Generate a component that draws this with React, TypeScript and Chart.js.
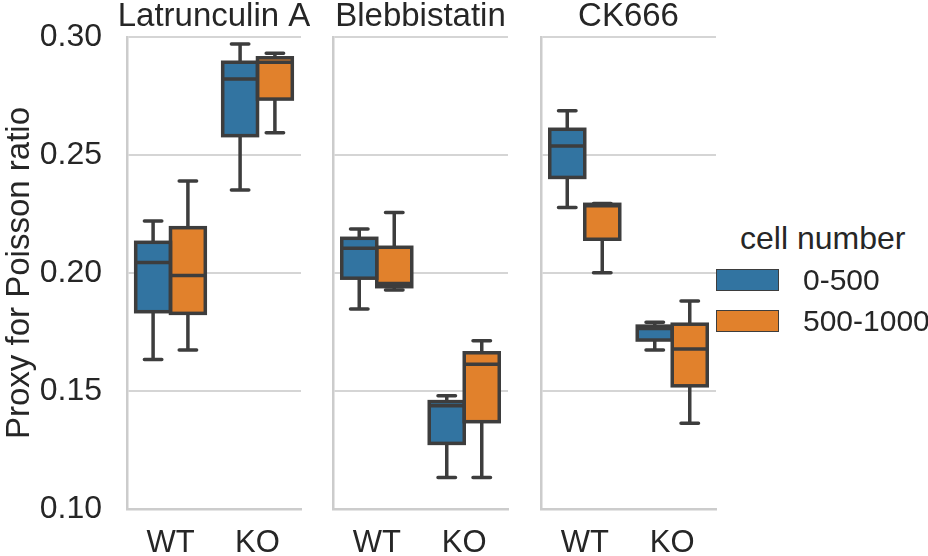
import React, { useEffect, useRef } from 'react';
import { Chart, registerables } from 'chart.js';

Chart.register(...registerables);

// ---------- data ----------
const panelTitles = ['Latrunculin A', 'Blebbistatin', 'CK666'];
const genotypes = ['WT', 'KO'];
const cellNumberGroups = ['0-500', '500-1000'];
const yTickValues = [0.1, 0.15, 0.2, 0.25, 0.3];

// each entry: [min, q1, median, q3, max] for WT, KO
const latrunculin_0_500 = [
  [0.1634, 0.1836, 0.2045, 0.213, 0.222],
  [0.2352, 0.2582, 0.2822, 0.2893, 0.297],
];
const latrunculin_500_1000 = [
  [0.1674, 0.1829, 0.1989, 0.2192, 0.239],
  [0.2594, 0.2737, 0.2893, 0.2912, 0.2931],
];
const blebbistatin_0_500 = [
  [0.1847, 0.1978, 0.2105, 0.2147, 0.2186],
  [0.1133, 0.1278, 0.1438, 0.1455, 0.148],
];
const blebbistatin_500_1000 = [
  [0.1928, 0.1942, 0.1956, 0.2109, 0.2256],
  [0.1133, 0.137, 0.1613, 0.1662, 0.1713],
];
const ck666_0_500 = [
  [0.2278, 0.2405, 0.2538, 0.2609, 0.2688],
  [0.1674, 0.1716, 0.1765, 0.1775, 0.1791],
];
const ck666_500_1000 = [
  [0.2001, 0.2143, 0.2285, 0.2291, 0.2295],
  [0.1363, 0.1522, 0.1678, 0.1783, 0.1881],
];

// ---------- style ----------
const BLUE = '#3274a1';
const ORANGE = '#e1812c';
const LINE = '#3d3d3d';
const GRID = '#d5d5d5';
const SPINE = '#cccccc';
const TEXT = '#262626';
const FONT = "'Liberation Sans', Arial, sans-serif";
const LW = 3.5;

const boxPlugin = {
  id: 'boxWhiskers',
  afterDatasetsDraw(chart: any) {
    const ctx = chart.ctx;
    const y = chart.scales.y;
    chart.data.datasets.forEach((ds: any, di: number) => {
      const meta = chart.getDatasetMeta(di);
      meta.data.forEach((el: any, i: number) => {
        const s = ds.stats[i];
        const x = el.x;
        const w = el.width;
        const yMin = y.getPixelForValue(s[0]);
        const yQ1 = y.getPixelForValue(s[1]);
        const yMed = y.getPixelForValue(s[2]);
        const yQ3 = y.getPixelForValue(s[3]);
        const yMax = y.getPixelForValue(s[4]);
        ctx.save();
        ctx.strokeStyle = LINE;
        ctx.lineWidth = LW;
        // whiskers
        ctx.lineCap = 'butt';
        ctx.beginPath();
        ctx.moveTo(x, yQ3);
        ctx.lineTo(x, yMax);
        ctx.moveTo(x, yQ1);
        ctx.lineTo(x, yMin);
        ctx.stroke();
        // caps
        ctx.lineCap = 'round';
        const cw = w * 0.25;
        ctx.beginPath();
        ctx.moveTo(x - cw, yMax);
        ctx.lineTo(x + cw, yMax);
        ctx.moveTo(x - cw, yMin);
        ctx.lineTo(x + cw, yMin);
        ctx.stroke();
        // box outline
        ctx.lineCap = 'butt';
        ctx.lineJoin = 'miter';
        ctx.strokeRect(x - w / 2, yQ3, w, yQ1 - yQ3);
        // median
        ctx.beginPath();
        ctx.moveTo(x - w / 2, yMed);
        ctx.lineTo(x + w / 2, yMed);
        ctx.stroke();
        ctx.restore();
      });
    });
  },
};

const panelTitlePlugin = {
  id: 'panelTitle',
  afterDraw(chart: any) {
    const t = chart.options.plugins.panelTitle;
    if (!t) return;
    const ctx = chart.ctx;
    const a = chart.chartArea;
    ctx.save();
    ctx.fillStyle = TEXT;
    ctx.font = `33px ${FONT}`;
    ctx.textAlign = 'center';
    ctx.textBaseline = 'alphabetic';
    ctx.fillText(t.text, (a.left + a.right) / 2, 26);
    ctx.restore();
  },
};

type PanelProps = {
  title: string;
  low: number[][];
  high: number[][];
  left: number;
  width: number;
  axisWidth: number;
  showY: boolean;
};

function Panel({ title, low, high, left, width, axisWidth, showY }: PanelProps) {
  const ref = useRef<HTMLCanvasElement>(null);
  useEffect(() => {
    const chart = new Chart(ref.current as HTMLCanvasElement, {
      type: 'bar',
      data: {
        labels: genotypes,
        datasets: [
          {
            label: cellNumberGroups[0],
            data: low.map((s) => [s[1], s[3]]),
            stats: low,
            backgroundColor: BLUE,
            borderWidth: 0,
          } as any,
          {
            label: cellNumberGroups[1],
            data: high.map((s) => [s[1], s[3]]),
            stats: high,
            backgroundColor: ORANGE,
            borderWidth: 0,
          } as any,
        ],
      },
      options: {
        animation: false,
        responsive: false,
        maintainAspectRatio: false,
        events: [],
        categoryPercentage: 0.8,
        barPercentage: 1.0,
        layout: { padding: { top: 37, right: 9, left: 0, bottom: 0 } },
        plugins: {
          legend: { display: false },
          tooltip: { enabled: false },
          title: { display: false },
          panelTitle: { text: title },
        } as any,
        scales: {
          x: {
            grid: { display: false, drawTicks: false },
            border: { display: true, color: SPINE, width: 2.5 },
            ticks: { color: TEXT, font: { family: FONT, size: 31 }, padding: 16 },
            afterFit: (s: any) => {
              s.height = 47;
              s.paddingLeft = 0;
              s.paddingRight = 0;
            },
          },
          y: {
            min: 0.1,
            max: 0.3,
            afterBuildTicks: (s: any) => {
              s.ticks = yTickValues.map((v) => ({ value: v }));
            },
            ticks: {
              display: showY,
              color: TEXT,
              font: { family: FONT, size: 32 },
              padding: 25,
              callback: (v: any) => Number(v).toFixed(2),
            },
            grid: { color: GRID, lineWidth: 2, drawTicks: false },
            border: { display: true, color: SPINE, width: 2.5 },
            title: {
              display: showY,
              text: 'Proxy for Poisson ratio',
              color: TEXT,
              font: { family: FONT, size: 33 },
              padding: { top: 0, bottom: 0 },
            },
            afterFit: (s: any) => {
              s.width = axisWidth;
              s.paddingTop = 0;
              s.paddingBottom = 0;
            },
          },
        },
      } as any,
      plugins: [boxPlugin, panelTitlePlugin],
    });
    return () => chart.destroy();
  }, []);
  return (
    <canvas
      ref={ref}
      width={width}
      height={556}
      style={{ position: 'absolute', left, top: 0, width, height: 556 }}
    />
  );
}

function Legend() {
  const patch = (top: number, color: string) => (
    <div
      style={{
        position: 'absolute',
        left: 716,
        top,
        width: 63,
        height: 22,
        background: color,
        border: `1.5px solid ${LINE}`,
        boxSizing: 'border-box',
      }}
    />
  );
  const label = (top: number, text: string, size: number, left: number) => (
    <div
      style={{
        position: 'absolute',
        left,
        top,
        fontFamily: FONT,
        fontSize: size,
        lineHeight: `${size}px`,
        color: TEXT,
        whiteSpace: 'nowrap',
      }}
    >
      {text}
    </div>
  );
  return (
    <>
      {label(222, 'cell number', 32, 740)}
      {patch(269, BLUE)}
      {label(265, cellNumberGroups[0], 30, 803)}
      {patch(310, ORANGE)}
      {label(306, cellNumberGroups[1], 30, 803)}
    </>
  );
}

export default function App() {
  return (
    <div
      style={{
        position: 'absolute',
        left: 0,
        top: 0,
        width: 928,
        height: 556,
        background: '#ffffff',
        overflow: 'hidden',
      }}
    >
      <Panel
        title={panelTitles[0]}
        low={latrunculin_0_500}
        high={latrunculin_500_1000}
        left={0}
        width={310}
        axisWidth={127}
        showY={true}
      />
      <Panel
        title={panelTitles[1]}
        low={blebbistatin_0_500}
        high={blebbistatin_500_1000}
        left={320}
        width={197}
        axisWidth={13}
        showY={false}
      />
      <Panel
        title={panelTitles[2]}
        low={ck666_0_500}
        high={ck666_500_1000}
        left={528}
        width={197}
        axisWidth={13}
        showY={false}
      />
      <Legend />
    </div>
  );
}
